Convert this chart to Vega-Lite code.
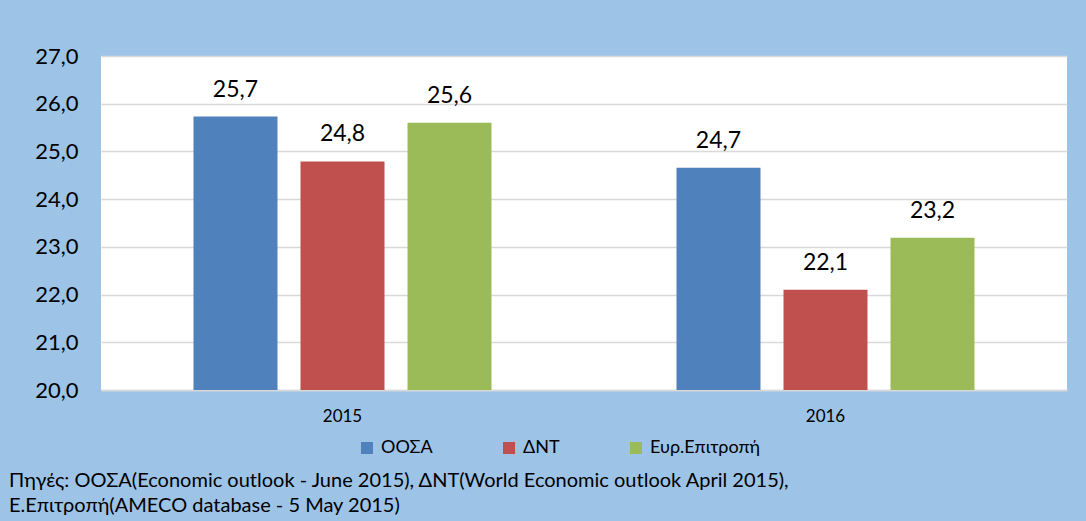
{
  "$schema": "https://vega.github.io/schema/vega-lite/v6.json",
  "width": 966,
  "height": 334,
  "autosize": {"type": "none"},
  "padding": {"left": 101, "top": 56, "right": 19, "bottom": 131},
  "background": "#9DC3E6",
  "data": {
    "values": [
      {"year": "2015", "source": "ΟΟΣΑ", "value": 25.73},
      {"year": "2015", "source": "ΔΝΤ", "value": 24.79},
      {"year": "2015", "source": "Ευρ.Επιτροπή", "value": 25.6},
      {"year": "2016", "source": "ΟΟΣΑ", "value": 24.66},
      {"year": "2016", "source": "ΔΝΤ", "value": 22.1},
      {"year": "2016", "source": "Ευρ.Επιτροπή", "value": 23.19}
    ]
  },
  "title": {
    "text": ["Πηγές: ΟΟΣΑ(Economic outlook - June 2015), ΔΝΤ(World Economic outlook April 2015),", "Ε.Επιτροπή(AMECO database - 5 May 2015)"],
    "orient": "bottom",
    "anchor": "start",
    "frame": "group",
    "dx": -92,
    "offset": 14,
    "font": "Lato",
    "fontSize": 20,
    "fontWeight": "normal",
    "lineHeight": 25,
    "color": "#000000"
  },
  "encoding": {
    "x": {
      "field": "year",
      "type": "nominal",
      "scale": {"paddingInner": 0.383, "paddingOuter": 0.1915},
      "axis": {
        "title": null,
        "labelAngle": 0,
        "labelFont": "Lato",
        "labelFontSize": 17,
        "labelColor": "#000000",
        "labelPadding": 18,
        "ticks": false,
        "domainColor": "#D9D9D9",
        "domainWidth": 1.5,
        "grid": false
      }
    },
    "xOffset": {
      "field": "source",
      "type": "nominal",
      "sort": ["ΟΟΣΑ", "ΔΝΤ", "Ευρ.Επιτροπή"],
      "scale": {"paddingInner": 0.215, "paddingOuter": 0}
    }
  },
  "layer": [
    {
      "mark": {"type": "bar"},
      "encoding": {
        "y": {
          "field": "value",
          "type": "quantitative",
          "scale": {"domain": [20, 27], "nice": false, "zero": false},
          "axis": {
            "title": null,
            "values": [20, 21, 22, 23, 24, 25, 26, 27],
            "format": ".1f",
            "labelFont": "Lato",
            "labelFontSize": 22,
            "labelColor": "#000000",
            "labelPadding": 23,
            "ticks": false,
            "domain": false,
            "grid": true,
            "gridColor": "#D9D9D9",
            "gridWidth": 1.5
          }
        },
        "y2": {"datum": 20},
        "color": {
          "field": "source",
          "type": "nominal",
          "sort": ["ΟΟΣΑ", "ΔΝΤ", "Ευρ.Επιτροπή"],
          "scale": {
            "domain": ["ΟΟΣΑ", "ΔΝΤ", "Ευρ.Επιτροπή"],
            "range": ["#4F81BD", "#C0504D", "#9BBB59"]
          },
          "legend": {
            "title": null,
            "orient": "none",
            "direction": "horizontal",
            "legendX": 257,
            "legendY": 383,
            "symbolType": "square",
            "symbolSize": 144,
            "symbolStrokeWidth": 0,
            "symbolOpacity": 1,
            "labelFont": "Lato",
            "labelFontSize": 18,
            "labelColor": "#000000",
            "labelOffset": 5,
            "columnPadding": 67
          }
        }
      }
    },
    {
      "mark": {"type": "text", "baseline": "alphabetic", "dy": -20, "font": "Lato", "fontSize": 23, "color": "#000000"},
      "encoding": {
        "y": {"field": "value", "type": "quantitative"},
        "text": {"field": "value", "type": "quantitative", "format": ".1f"}
      }
    }
  ],
  "config": {
    "locale": {
      "number": {"decimal": ",", "thousands": ".", "grouping": [3], "currency": ["", " €"]}
    },
    "view": {"fill": "#FFFFFF", "stroke": null}
  }
}
